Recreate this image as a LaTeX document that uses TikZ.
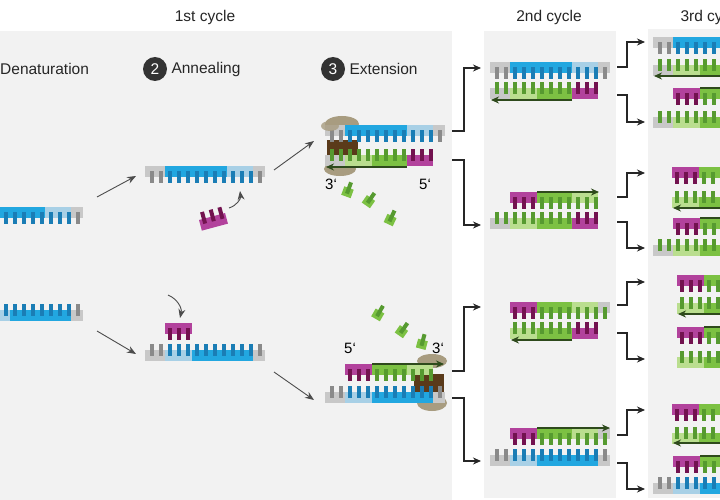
\documentclass[tikz,border=0pt]{standalone}
\usepackage{fontspec}
\setmainfont{Liberation Sans}
\usetikzlibrary{arrows.meta}
\definecolor{panel}{HTML}{F2F2F2}
\definecolor{gy}{HTML}{C8C8C8}
\definecolor{gt}{HTML}{8A8A8A}
\definecolor{bl}{HTML}{22A7E0}
\definecolor{bt}{HTML}{1A7DB5}
\definecolor{lb}{HTML}{A8D0E6}
\definecolor{gn}{HTML}{7CC143}
\definecolor{nt}{HTML}{569A30}
\definecolor{lg}{HTML}{BADE8F}
\definecolor{mg}{HTML}{B2429C}
\definecolor{pt}{HTML}{72124F}
\definecolor{dg}{HTML}{2E4A1C}
\definecolor{tan}{HTML}{A89C80}
\definecolor{brn}{HTML}{5A3A1A}
\def\sT{0/20/gy,20/82/bl,82/108/lb,108/120/gy}
\def\sC{0/20/gy,20/47/lb,47/108/bl,108/120/gy}
\def\sG{0/20/gy,20/47/lg,47/82/gn,82/108/mg}
\def\sM{20/47/mg,47/82/gn,82/108/lg}
\def\sMg{20/47/mg,47/82/gn,82/108/lg,108/120/gy}
\def\sH{20/47/lg,47/82/gn,82/108/mg}
\def\sP{20/47/mg}
\def\tT{gt,gt,bt,bt,bt,bt,bt,bt,bt,bt,bt,bt,gt}
\def\tG{nt,nt,nt,nt,nt,nt,nt,nt,nt,pt,pt,pt}
\def\tM{pt,pt,pt,nt,nt,nt,nt,nt,nt,nt}
\def\tMg{pt,pt,pt,nt,nt,nt,nt,nt,nt,nt,nt}
\def\tH{nt,nt,nt,nt,nt,nt,nt,pt,pt,pt}
\def\tP{pt,pt,pt}
% down strand: x y segs k0 teeth
\newcommand\strD[5]{\begin{scope}[shift={(#1,#2)}]
 \foreach \a/\b/\c in #3 {\fill[\c] (\a,0) rectangle (\b,11);}
 \foreach \c [count=\i from #4] in #5 {\fill[\c] ({5+9*(\i-1)},5) rectangle ++(4,12);}
 \end{scope}}
\newcommand\strU[5]{\begin{scope}[shift={(#1,#2)}]
 \foreach \a/\b/\c in #3 {\fill[\c] (\a,0) rectangle (\b,11);}
 \foreach \c [count=\i from #4] in #5 {\fill[\c] ({5+9*(\i-1)},6) rectangle ++(4,-12);}
 \end{scope}}
\newcommand\nuc[3]{\begin{scope}[shift={(#1,#2)},rotate=#3]
 \fill[gn] (-5,0) rectangle (5,9); \fill[nt] (-2,-6) rectangle (2,6);\end{scope}}
\newcommand\elb[3]{\draw[elbow] (#1,#2) -- ++(10,0) |- (#1+28,#3);}
\tikzset{
 ttl/.style={font=\fontsize{15.5}{18}\selectfont, text=black!85},
 stepc/.style={circle,fill=black!80,text=white,inner sep=0pt,minimum size=24pt,font=\fontsize{15.5}{18}\selectfont},
 mv/.style={draw=black!70,line width=0.9pt,-{Stealth[length=9pt,width=7pt]}},
 elbow/.style={draw=black!85,line width=1.1pt,-{Stealth[length=8pt,width=7pt]}},
 ext/.style={draw=dg,line width=1.2pt,-{Stealth[length=8pt,width=7pt]}},
 lab/.style={font=\fontsize{15}{18}\selectfont}
}
\begin{document}
\begin{tikzpicture}[x=1pt,y=-1pt]
\useasboundingbox (0,0) rectangle (720,500);
\clip (0,0) rectangle (720,500);
\fill[white] (0,0) rectangle (720,500);
\fill[panel] (0,31) rectangle (452,500);
\fill[panel] (484,31) rectangle (616,498);
\fill[panel] (648,29) rectangle (720,498);
% titles
\node[ttl] (t1) at (205,17) {1st cycle};
\node[ttl] (t2) at (549,17) {2nd cycle};
\node[ttl,anchor=west] (t3) at (677,17) {3rd cycle};
\node[ttl,anchor=west,inner xsep=0pt] (d1) at (0,69) {Denaturation};
\node[stepc] (c2) at (155,69) {2};
\node[ttl,anchor=west] (d2) at (168,69) {Annealing};
\node[stepc] (c3) at (333,69) {3};
\node[ttl,anchor=west] (d3) at (346,69) {Extension};
% denaturation
\strD{-37}{207}{\sT}{1}{\tT}
\strU{-37}{310}{\sC}{1}{\tT}
% annealing
\strD{145}{166}{\sT}{1}{\tT}
\strU{145}{350}{\sC}{1}{\tT}
\strD{145}{323}{\sP}{3}{\tP}
\begin{scope}[shift={(199,220)},rotate=15]
 \fill[mg] (0,0) rectangle (27,11);
 \foreach \i in {0,1,2} {\fill[pt] (3+9*\i,5) rectangle ++(4,-12);}
\end{scope}
\draw[mv] (229,208) to[bend right=40] (240,191);
\draw[mv] (168,295) to[bend left=40] (180,318);
\draw[mv] (97,197) -- (136,176);
\draw[mv] (97,331) -- (136,354);
\draw[mv] (274,170) -- (314,141);
\draw[mv] (274,372) -- (314,400);
% extension top
\fill[tan] (342,124) ellipse (17 and 8);
\fill[tan] (340,169) ellipse (16 and 7);
\fill[brn] (327,140) rectangle (358,156);
\strD{325}{125}{\sT}{1}{\tT}
\strU{325}{155}{\sG}{1}{\tG}
\draw[ext] (407,167) -- (326,167);
\fill[tan,opacity=0.8] (330,126) ellipse (9 and 5);
\node[lab] (p3a) at (331,184) {3‘};
\node[lab] (p5a) at (425,184) {5‘};
\nuc{349}{188}{-20}
\nuc{371}{198}{-35}
\nuc{392}{216}{-25}
% extension bottom
\fill[tan] (432,403) ellipse (15 and 8);
\fill[tan] (432,361) ellipse (15 and 7);
\fill[brn] (414,374) rectangle (444,392);
\strD{325}{364}{\sM}{3}{\tM}
\strU{325}{392}{\sC}{1}{\tT}
\draw[ext] (372,364) -- (444,364);
\node[lab] (p5b) at (350,348) {5‘};
\node[lab] (p3b) at (438,348) {3‘};
\nuc{380}{311}{-30}
\nuc{404}{328}{-35}
\nuc{423}{340}{-15}
% elbows panel1 -> panel2
\draw[elbow] (452,131) -- (464,131) |- (481,68);
\draw[elbow] (452,160) -- (464,160) |- (481,225);
\draw[elbow] (452,371) -- (464,371) |- (481,307);
\draw[elbow] (452,398) -- (464,398) |- (481,461);
% panel 2
\strD{490}{62}{\sT}{1}{\tT}
\strU{490}{88}{\sG}{1}{\tG}
\draw[ext] (572,100) -- (491,100);
\strD{490}{192}{\sM}{3}{\tM}
\strU{490}{218}{\sG}{1}{\tG}
\draw[ext] (537,192) -- (599,192);
\strD{490}{302}{\sMg}{3}{\tMg}
\strU{490}{328}{\sH}{3}{\tH}
\draw[ext] (572,340) -- (511,340);
\strD{490}{428}{\sMg}{3}{\tMg}
\strU{490}{455}{\sC}{1}{\tT}
\draw[ext] (537,428) -- (610,428);
% elbows panel2 -> panel3
\elb{617}{67}{42}
\elb{617}{95}{122}
\elb{617}{197}{173}
\elb{617}{222}{248}
\elb{617}{305}{282}
\elb{617}{333}{359}
\elb{617}{435}{410}
\elb{617}{463}{489}
% panel 3
\strD{653}{37}{\sT}{1}{\tT}
\strU{653}{65}{\sG}{1}{\tG}
\draw[ext] (735,76) -- (654,76);
\strD{653}{88}{\sM}{3}{\tM}
\strU{653}{117}{\sG}{1}{\tG}
\draw[ext] (700,88) -- (762,88);
\strD{652}{167}{\sM}{3}{\tM}
\strU{652}{197}{\sH}{3}{\tH}
\draw[ext] (734,208) -- (673,208);
\strD{653}{218}{\sM}{3}{\tM}
\strU{653}{245}{\sG}{1}{\tG}
\draw[ext] (700,218) -- (762,218);
\strD{657}{275}{\sM}{3}{\tM}
\strU{657}{303}{\sH}{3}{\tH}
\draw[ext] (739,314) -- (678,314);
\strD{657}{327}{\sM}{3}{\tM}
\strU{657}{357}{\sH}{3}{\tH}
\draw[ext] (704,327) -- (766,327);
\strD{652}{404}{\sM}{3}{\tM}
\strU{652}{433}{\sH}{3}{\tH}
\draw[ext] (734,443) -- (673,443);
\strD{653}{456}{\sM}{3}{\tM}
\strU{653}{483}{\sC}{1}{\tT}
\draw[ext] (700,456) -- (762,456);
\end{tikzpicture}
\end{document}
